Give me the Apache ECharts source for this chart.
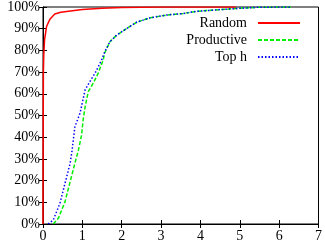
<!DOCTYPE html>
<html>
<head>
<meta charset="utf-8">
<script src="https://cdn.jsdelivr.net/npm/echarts@6/dist/echarts.min.js"></script>
<style>html,body{margin:0;padding:0;background:#fff}#c{width:325px;height:244px}</style>
</head>
<body>
<div id="c"></div>
<script>
var seriesNames = ['Random', 'Productive', 'Top h'];
var randomX = [0, 0.005, 0.01, 0.02, 0.04, 0.09, 0.18, 0.3, 0.45, 0.7, 1.0, 1.5, 2.0, 3.0, 4.9];
var randomY = [0, 45, 70, 78, 85, 91, 94.5, 96.8, 97.6, 98.2, 98.9, 99.4, 99.8, 100, 100];
var productiveX = [0.26, 0.39, 0.56, 0.69, 0.81, 0.9, 0.98, 1.02, 1.07, 1.15, 1.28, 1.4, 1.53, 1.57, 1.7, 1.87, 2.12, 2.38, 2.72, 3.14, 3.56, 3.9, 4.5, 5.0, 5.5, 6.3];
var productiveY = [0, 2.6, 10.3, 19.5, 28, 34, 41, 48, 54, 61, 65, 69.4, 75.6, 79, 84, 87, 90, 93, 95, 96.3, 97, 98, 98.8, 99.4, 99.9, 100];
var tophX = [0.13, 0.26, 0.43, 0.56, 0.69, 0.74, 0.81, 0.94, 1.07, 1.19, 1.32, 1.49, 1.57, 1.7, 1.87, 2.12, 2.38, 2.72, 3.14, 3.56, 3.9, 4.5, 5.0, 5.5, 6.3];
var tophY = [0, 1.8, 9.5, 18.8, 28, 34, 44.8, 51, 61.8, 65.6, 69.4, 75.6, 79.4, 84, 87, 90, 93, 95, 96.3, 97, 98, 98.8, 99.4, 99.9, 100];
var xTicks = [0, 1, 2, 3, 4, 5, 6, 7];
var yTicks = [0, 10, 20, 30, 40, 50, 60, 70, 80, 90, 100];

function zip(xs, ys) { return xs.map(function (x, i) { return [x, ys[i]]; }); }

var font = 'Liberation Serif';
var chart = echarts.init(document.getElementById('c'));
var tick = { show: true, inside: true, length: 4, lineStyle: { color: '#000', width: 1 } };
chart.setOption({
  animation: false,
  backgroundColor: '#fff',
  grid: { left: 43, right: 6, top: 7, bottom: 20, show: true, borderColor: '#000', borderWidth: 1, containLabel: false },
  legend: {
    orient: 'vertical', right: 19, top: 11, align: 'right', itemGap: 3,
    itemWidth: 42, itemHeight: 12,
    itemStyle: { opacity: 0 },
    textStyle: { fontFamily: font, fontSize: 14, color: '#000', padding: [0, 6, 0, 0] },
    data: seriesNames
  },
  xAxis: [
    { type: 'value', min: 0, max: 7, interval: 1, position: 'bottom',
      axisLine: { show: true, lineStyle: { color: '#000' } }, axisTick: tick,
      splitLine: { show: false },
      axisLabel: { fontFamily: font, fontSize: 14, color: '#000', margin: 5 } },
    { type: 'value', min: 0, max: 7, interval: 1, position: 'top',
      axisLine: { show: true, lineStyle: { color: '#000' } }, axisTick: tick,
      splitLine: { show: false }, axisLabel: { show: false } }
  ],
  yAxis: [
    { type: 'value', min: 0, max: 100, interval: 10, position: 'left',
      axisLine: { show: true, lineStyle: { color: '#000' } }, axisTick: tick,
      splitLine: { show: false },
      axisLabel: { fontFamily: font, fontSize: 14, color: '#000', margin: 3, formatter: '{value}%' } },
    { type: 'value', min: 0, max: 100, interval: 10, position: 'right',
      axisLine: { show: true, lineStyle: { color: '#000' } }, axisTick: tick,
      splitLine: { show: false }, axisLabel: { show: false } }
  ],
  series: [
    { name: seriesNames[0], type: 'line', showSymbol: false, symbol: 'none', data: zip(randomX, randomY),
      lineStyle: { color: '#ff0000', width: 1.5 }, itemStyle: { color: '#ff0000' } },
    { name: seriesNames[1], type: 'line', showSymbol: false, symbol: 'none', data: zip(productiveX, productiveY),
      lineStyle: { color: '#00ee00', width: 1.5, type: [4, 2] }, itemStyle: { color: '#00ee00' } },
    { name: seriesNames[2], type: 'line', showSymbol: false, symbol: 'none', data: zip(tophX, tophY),
      lineStyle: { color: '#0000ff', width: 1.5, type: [1.5, 2] }, itemStyle: { color: '#0000ff' } }
  ]
});
</script>
</body>
</html>
